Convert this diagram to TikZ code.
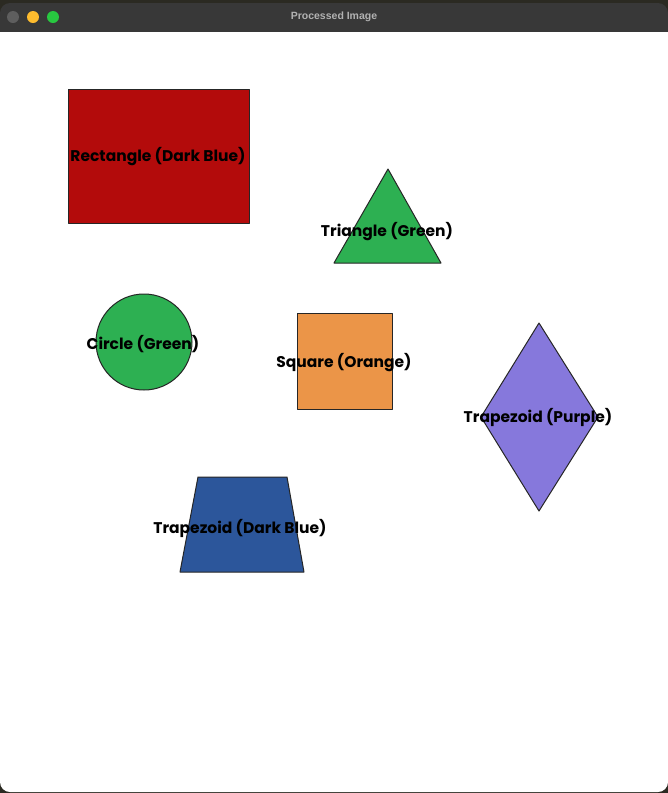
\documentclass[tikz,border=0pt]{standalone}
\usepackage{fontspec}
\newfontfamily\labelfont{Poppins}
\newfontfamily\titlefont{Liberation Sans}
\definecolor{deskDark}{HTML}{2B2A22}
\definecolor{barGray}{HTML}{383838}
\definecolor{titleGray}{HTML}{B2B2B2}
\definecolor{btnGray}{HTML}{5E5E5E}
\definecolor{btnYellow}{HTML}{FEBC2E}
\definecolor{btnGreen}{HTML}{28C840}
\definecolor{rectRed}{HTML}{B30B0B}
\definecolor{shapeGreen}{HTML}{2DB052}
\definecolor{sqOrange}{HTML}{EB9548}
\definecolor{diaPurple}{HTML}{8678DC}
\definecolor{trapBlue}{HTML}{2C569B}
\tikzset{
    outlined/.style={draw=black!85, line width=1pt, line join=round},
    shapelabel/.style={font=\labelfont\bfseries\fontsize{15.5}{17}\selectfont, inner sep=0pt, text=black},
}
\begin{document}
\begin{tikzpicture}[x=1pt, y=-1pt]
        \useasboundingbox (0,0) rectangle (668,793);
        \fill[deskDark] (0,0) rectangle (668,793);

        % window
        \fill[white, rounded corners=10pt] (0,20) rectangle (668,792);
        \fill[barGray, rounded corners=10pt] (0,3) rectangle (668,40);
        \fill[barGray] (0,20) rectangle (668,32);
        \fill[white] (0,32) rectangle (668,60);

        \fill[btnGray] (13,17) circle (6);
        \fill[btnYellow] (33,17) circle (6);
        \fill[btnGreen] (53,17) circle (6);
        \node[font=\titlefont\bfseries\fontsize{10.5}{12}\selectfont, text=titleGray] (title) at (334,17) {Processed Image};

        % shapes
        \filldraw[outlined, fill=rectRed] (68,89) rectangle (249,223);
        \filldraw[outlined, fill=shapeGreen] (388,169) -- (441,263) -- (334,263) -- cycle;
        \filldraw[outlined, fill=shapeGreen] (144,342) circle (48);
        \filldraw[outlined, fill=sqOrange] (297,313) rectangle (392,409);
        \filldraw[outlined, fill=diaPurple] (539,323) -- (598,417) -- (539,511) -- (481,417) -- cycle;
        \filldraw[outlined, fill=trapBlue] (198,477) -- (287,477) -- (304,572) -- (180,572) -- cycle;

        % labels
        \node[shapelabel] (rectlabel) at (158,157) {Rectangle (Dark Blue)};
        \node[shapelabel] (trilabel) at (387,232) {Triangle (Green)};
        \node[shapelabel] (circlabel) at (143,344) {Circle (Green)};
        \node[shapelabel] (sqlabel) at (344,363) {Square (Orange)};
        \node[shapelabel] (dialabel) at (538,417) {Trapezoid (Purple)};
        \node[shapelabel] (traplabel) at (240,528) {Trapezoid (Dark Blue)};
    \end{tikzpicture}
\end{document}
